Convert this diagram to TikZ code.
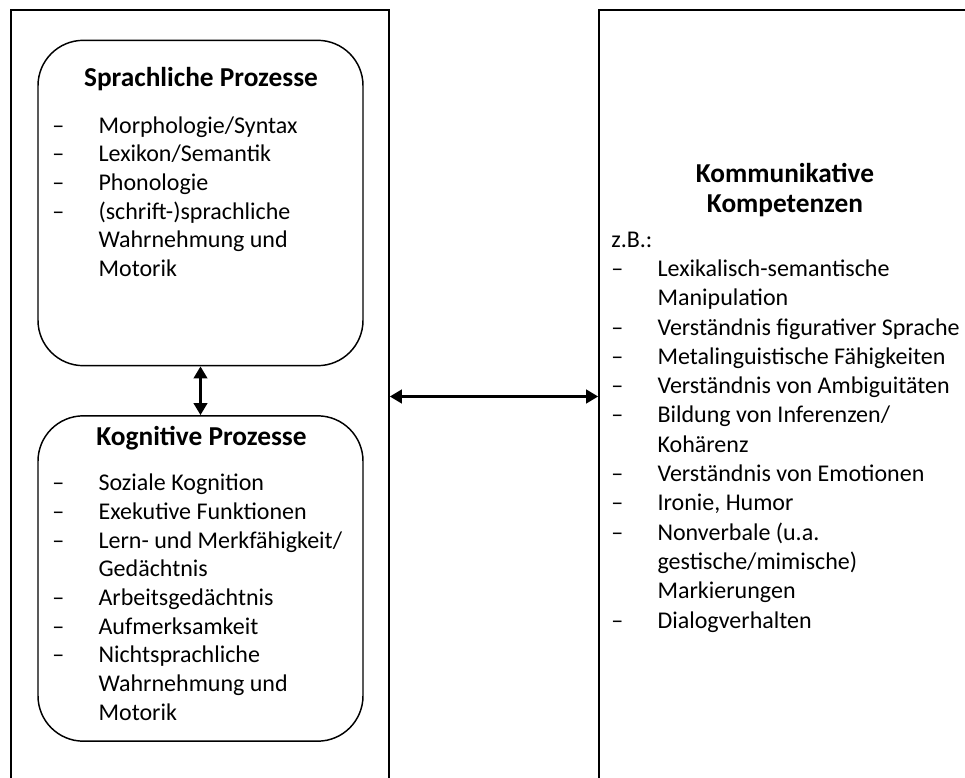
\documentclass[tikz,border=0pt]{standalone}
\usepackage{fontspec}
\setmainfont{Carlito}
\usetikzlibrary{arrows.meta, positioning}

\newcommand{\li}{\makebox[34.75pt][l]{\textendash}}
\newcommand{\lc}{\hspace*{34.75pt}}

\begin{document}
\begin{tikzpicture}[
  x=0.75pt, y=-0.75pt,
  outerbox/.style={draw, line width=1.2pt, minimum width=#1, minimum height=579.75pt, inner sep=0pt},
  procbox/.style={draw, line width=1.1pt, rounded corners=34pt, minimum width=243.75pt, minimum height=244pt, inner sep=0pt},
  ttl/.style={font=\bfseries\fontsize{20.5pt}{22.5pt}\selectfont, align=center, inner sep=0pt, anchor=base},
  lst/.style={font=\fontsize{18pt}{#1}\selectfont, align=left, inner sep=0pt, anchor=base west},
  dblarrow/.style={{Triangle[length=9pt,width=10pt]}-{Triangle[length=9pt,width=10pt]}, line width=2.2pt}
]
  \useasboundingbox (0,0) rectangle (965,778);
  \clip (0,0) rectangle (965,778);

  % outer frames
  \node[outerbox=283.5pt] (lefter) at (200,396.5) {};
  \node[outerbox=308.25pt] (righter) at (804.5,396.5) {};

  % process boxes
  \node[procbox] (spr) at (200.5,203) {};
  \node[procbox] (kog) at (200.5,578.5) {};

  % base anchor = last line
  \node[ttl] (sprttl) at (201,86) {Sprachliche Prozesse};
  \node[lst=21.5pt] (sprlst) at (52,276.5) {\li Morphologie/Syntax\\
    \li Lexikon/Semantik\\
    \li Phonologie\\
    \li (schrift-)sprachliche\\
    \lc Wahrnehmung und\\
    \lc Motorik};

  \node[ttl] (kogttl) at (201.5,445) {Kognitive Prozesse};
  \node[lst=21.5pt] (koglst) at (52,720) {\li Soziale Kognition\\
    \li Exekutive Funktionen\\
    \li Lern- und Merkfähigkeit/\\
    \lc Gedächtnis\\
    \li Arbeitsgedächtnis\\
    \li Aufmerksamkeit\\
    \li Nichtsprachliche\\
    \lc Wahrnehmung und\\
    \lc Motorik};

  % communicative competences
  \node[ttl] (komttl) at (785,212) {Kommunikative\\Kompetenzen};
  \node[lst=21.97pt] (komlst) at (611,628) {z.B.:\\
    \li Lexikalisch-semantische\\
    \lc Manipulation\\
    \li Verständnis figurativer Sprache\\
    \li Metalinguistische Fähigkeiten\\
    \li Verständnis von Ambiguitäten\\
    \li Bildung von Inferenzen/\\
    \lc Kohärenz\\
    \li Verständnis von Emotionen\\
    \li Ironie, Humor\\
    \li Nonverbale (u.a.\\
    \lc gestische/mimische)\\
    \lc Markierungen\\
    \li Dialogverhalten};

  \draw[dblarrow] (spr.south) -- (kog.north);
  \draw[dblarrow] (lefter.east) -- (righter.west);
\end{tikzpicture}
\end{document}
